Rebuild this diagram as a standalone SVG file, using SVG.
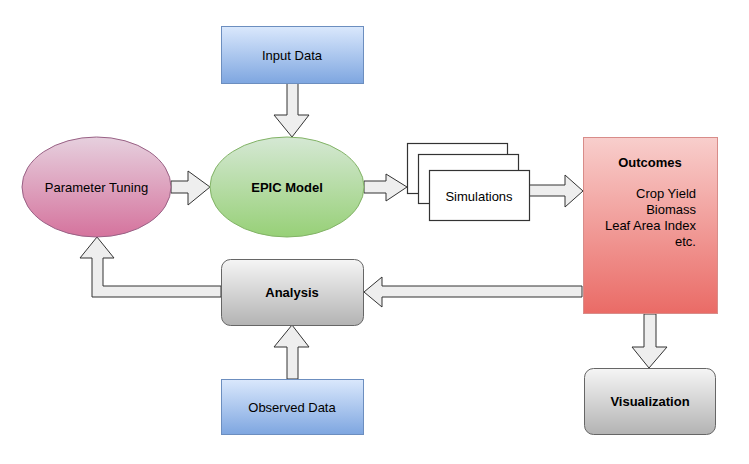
<svg xmlns="http://www.w3.org/2000/svg" width="749" height="464" viewBox="0 0 749 464">
<defs>
<linearGradient id="gBlue" x1="0" y1="0" x2="0" y2="1"><stop offset="0" stop-color="#dae8fc"/><stop offset="1" stop-color="#7ea6e0"/></linearGradient>
<linearGradient id="gGreen" x1="0" y1="0" x2="0" y2="1"><stop offset="0" stop-color="#d5e8d4"/><stop offset="1" stop-color="#97d077"/></linearGradient>
<linearGradient id="gPink" x1="0" y1="0" x2="0" y2="1"><stop offset="0" stop-color="#e6d0de"/><stop offset="1" stop-color="#d5739d"/></linearGradient>
<linearGradient id="gRed" x1="0" y1="0" x2="0" y2="1"><stop offset="0" stop-color="#f8cecc"/><stop offset="1" stop-color="#ea6b66"/></linearGradient>
<linearGradient id="gGray" x1="0" y1="0" x2="0" y2="1"><stop offset="0" stop-color="#f5f5f5"/><stop offset="1" stop-color="#b3b3b3"/></linearGradient>
</defs>
<style>
text{font-family:"Liberation Sans",Arial,sans-serif;font-size:13px;fill:#000;}
.c{text-anchor:middle;dominant-baseline:central;}
.b{font-weight:bold;}
.r{text-anchor:end;dominant-baseline:central;}
.arrow{fill:#eeeeee;stroke:#333333;stroke-width:1;}
.doc{fill:#ffffff;stroke:#333333;stroke-width:1.2;}
</style>
<rect width="749" height="464" fill="#ffffff"/>
<g id="connectors">
<polygon class="arrow" points="287,83 298,83 298,115 309,115 292,137 274,115 287,115"/>
<polygon class="arrow" points="171,181 188,181 188,171 210,187 188,205 188,193 171,193"/>
<polygon class="arrow" points="364,181 386,181 386,174 407,187 386,201 386,193 364,193"/>
<polygon class="arrow" points="529,185 565,185 565,175 583,191 565,207 565,196 529,196"/>
<polygon class="arrow" points="582,286 382,286 382,277 364,292 382,307 382,297 582,297"/>
<polygon class="arrow" points="221,286 103,286 103,258 114,258 97,237 80,258 92,258 92,297 221,297"/>
<polygon class="arrow" points="287,379 298,379 298,347 309,347 292,325 274,347 287,347"/>
<polygon class="arrow" points="644,314 656,314 656,347 667,347 649,368 632,347 644,347"/>
</g>
<g id="input-data">
<rect x="221.5" y="26.5" width="142" height="57" fill="url(#gBlue)" stroke="#6c8ebf"/>
<text class="c" x="292" y="55">Input Data</text>
</g>
<g id="parameter-tuning">
<ellipse cx="96.5" cy="187" rx="74.5" ry="50" fill="url(#gPink)" stroke="#996185"/>
<text class="c" x="96.5" y="187">Parameter Tuning</text>
</g>
<g id="epic-model">
<ellipse cx="287" cy="187" rx="77" ry="50" fill="url(#gGreen)" stroke="#82b366"/>
<text class="c b" x="287" y="187">EPIC Model</text>
</g>
<g id="simulations">
<rect class="doc" x="407.5" y="143.5" width="100" height="50"/>
<rect class="doc" x="418.5" y="154.5" width="100" height="49"/>
<rect class="doc" x="429.5" y="170.5" width="100" height="50"/>
<text class="c" x="479" y="196" fill="#222">Simulations</text>
</g>
<g id="outcomes">
<rect x="583.5" y="137.5" width="134" height="176" fill="url(#gRed)" stroke="#d88c89"/>
<text class="c b" x="650" y="162">Outcomes</text>
<text class="r" x="696" y="193">Crop Yield</text>
<text class="r" x="696" y="209">Biomass</text>
<text class="r" x="696" y="225">Leaf Area Index</text>
<text class="r" x="696" y="241">etc.</text>
</g>
<g id="analysis">
<rect x="221.5" y="259.5" width="142" height="66" rx="9" fill="url(#gGray)" stroke="#666666"/>
<text class="c b" x="292" y="292">Analysis</text>
</g>
<g id="observed-data">
<rect x="221.5" y="379.5" width="142" height="55" fill="url(#gBlue)" stroke="#6c8ebf"/>
<text class="c" x="292" y="407">Observed Data</text>
</g>
<g id="visualization">
<rect x="584.5" y="368.5" width="131" height="66" rx="9" fill="url(#gGray)" stroke="#666666"/>
<text class="c b" x="650" y="401">Visualization</text>
</g>
</svg>
